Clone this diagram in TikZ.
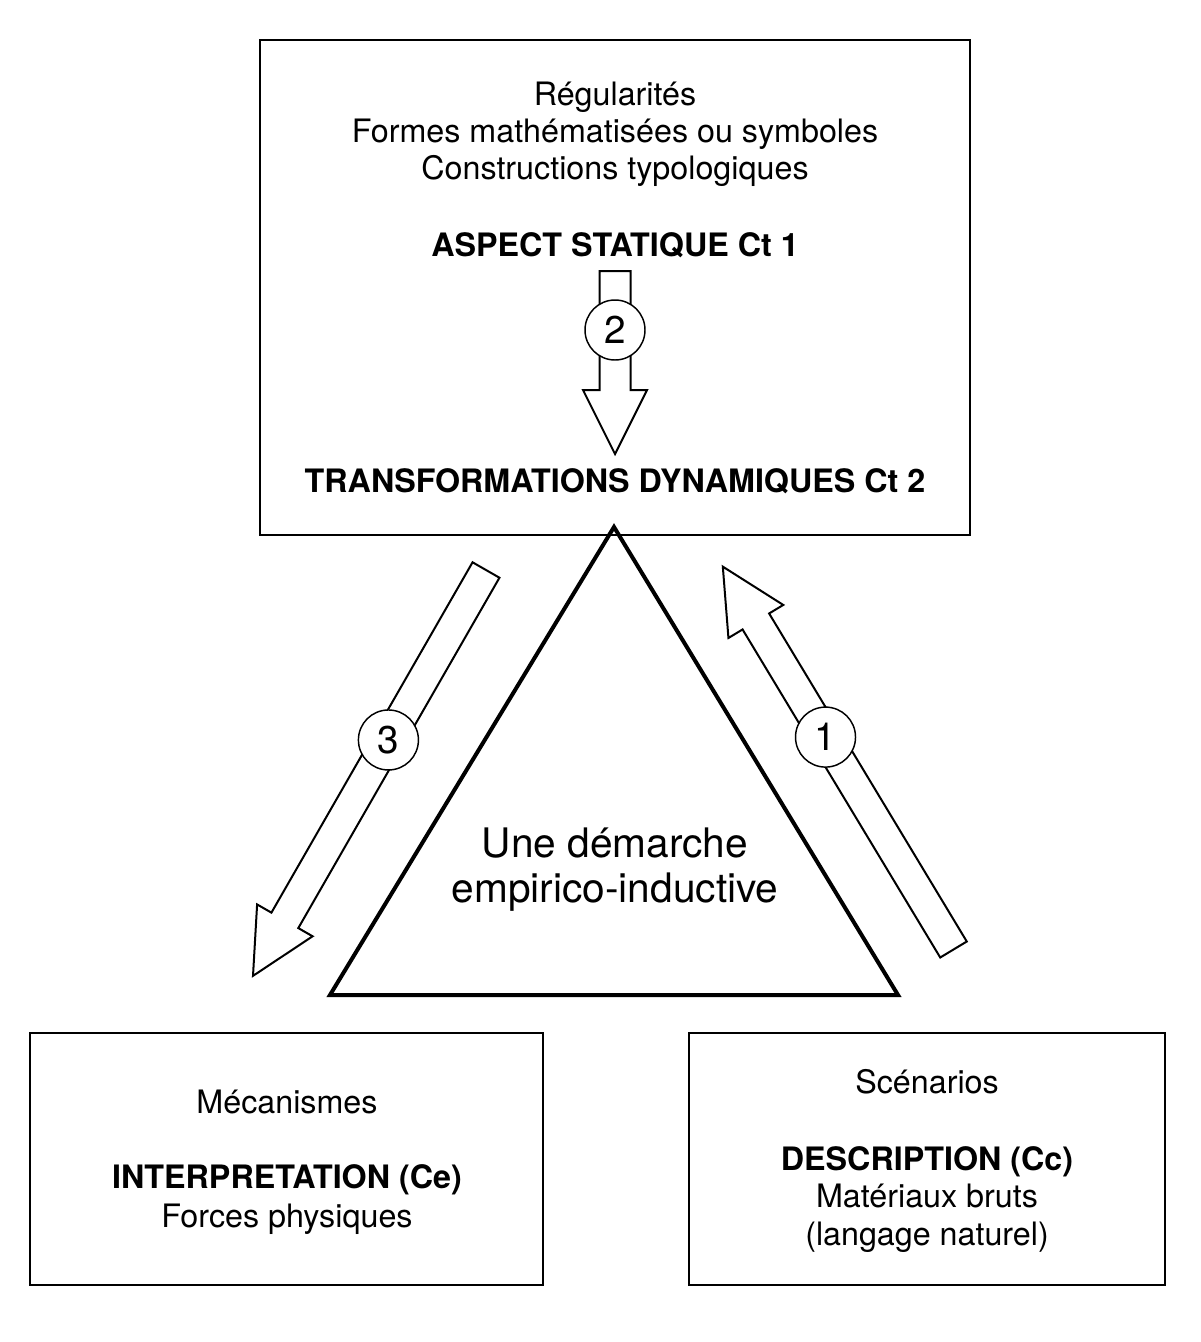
\documentclass[tikz,border=0pt]{standalone}
\usepackage{fontspec}
\setmainfont{TeX Gyre Heros}
\tikzset{
  box/.style={line width=1.1pt},
  trig/.style={line width=3pt, line join=miter},
  fatarrow/.style={line width=1.5pt, fill=white, line join=miter},
  numcirc/.style={circle, draw, line width=1.1pt, fill=white, minimum size=45pt, inner sep=0pt, font=\fontsize{29}{34}\selectfont},
  txt/.style={anchor=base, inner sep=0pt, font=\fontsize{24.2}{28}\selectfont},
  btxt/.style={anchor=base, inner sep=0pt, font=\fontsize{24.2}{28}\selectfont\bfseries},
  bigtxt/.style={anchor=base, inner sep=0pt, font=\fontsize{30.5}{36}\selectfont}
}
\begin{document}
\begin{tikzpicture}[x=0.75pt,y=0.75pt]
		\useasboundingbox (0,0) rectangle (1200,-1342);
		% boxes
		\draw[box] (260,-40) rectangle (970,-535);
		\draw[box] (30,-1033) rectangle (543,-1285);
		\draw[box] (689,-1033) rectangle (1165,-1285);
		% top box
		\node[txt] (reg) at (615,-105) {Régularités};
		\node[txt] (formes) at (615,-142) {Formes mathématisées ou symboles};
		\node[txt] (constr) at (615,-179) {Constructions typologiques};
		\node[btxt] (stat) at (615,-256) {ASPECT STATIQUE Ct 1};
		\node[btxt] (dyn) at (615,-492) {TRANSFORMATIONS DYNAMIQUES Ct 2};
		% triangle
		\draw[trig] (614,-527) -- (898,-995) -- (330,-995) -- cycle;
		\node[bigtxt] (une) at (615,-857) {Une démarche};
		\node[bigtxt] (emp) at (615,-902) {empirico-inductive};
		% bottom boxes
		\node[txt] (meca) at (287,-1113) {Mécanismes};
		\node[btxt] (interp) at (287,-1188) {INTERPRETATION (Ce)};
		\node[txt] (forces) at (287,-1227) {Forces physiques};
		\node[txt] (scen) at (927,-1093) {Scénarios};
		\node[btxt] (descr) at (927,-1170) {DESCRIPTION (Cc)};
		\node[txt] (mat) at (927,-1207) {Matériaux bruts};
		\node[txt] (lang) at (927,-1245) {(langage naturel)};
		% block arrows with numbers
		\foreach \n/\x/\y/\a/\l/\p in {2/615/-271/-90/183/59, 3/486/-570/240.14/468/196, 1/953.5/-949.5/121.07/447/248}{
				\begin{scope}[shift={(\x,\y)}, rotate=\a]
					\draw[fatarrow] (0,-15.5) -- (\l-64,-15.5) -- (\l-64,-32) -- (\l,0) -- (\l-64,32) -- (\l-64,15.5) -- (0,15.5) -- cycle;
					\node[numcirc] (c\n) at (\p,0) {\n};
				\end{scope}
			}
	\end{tikzpicture}
\end{document}
